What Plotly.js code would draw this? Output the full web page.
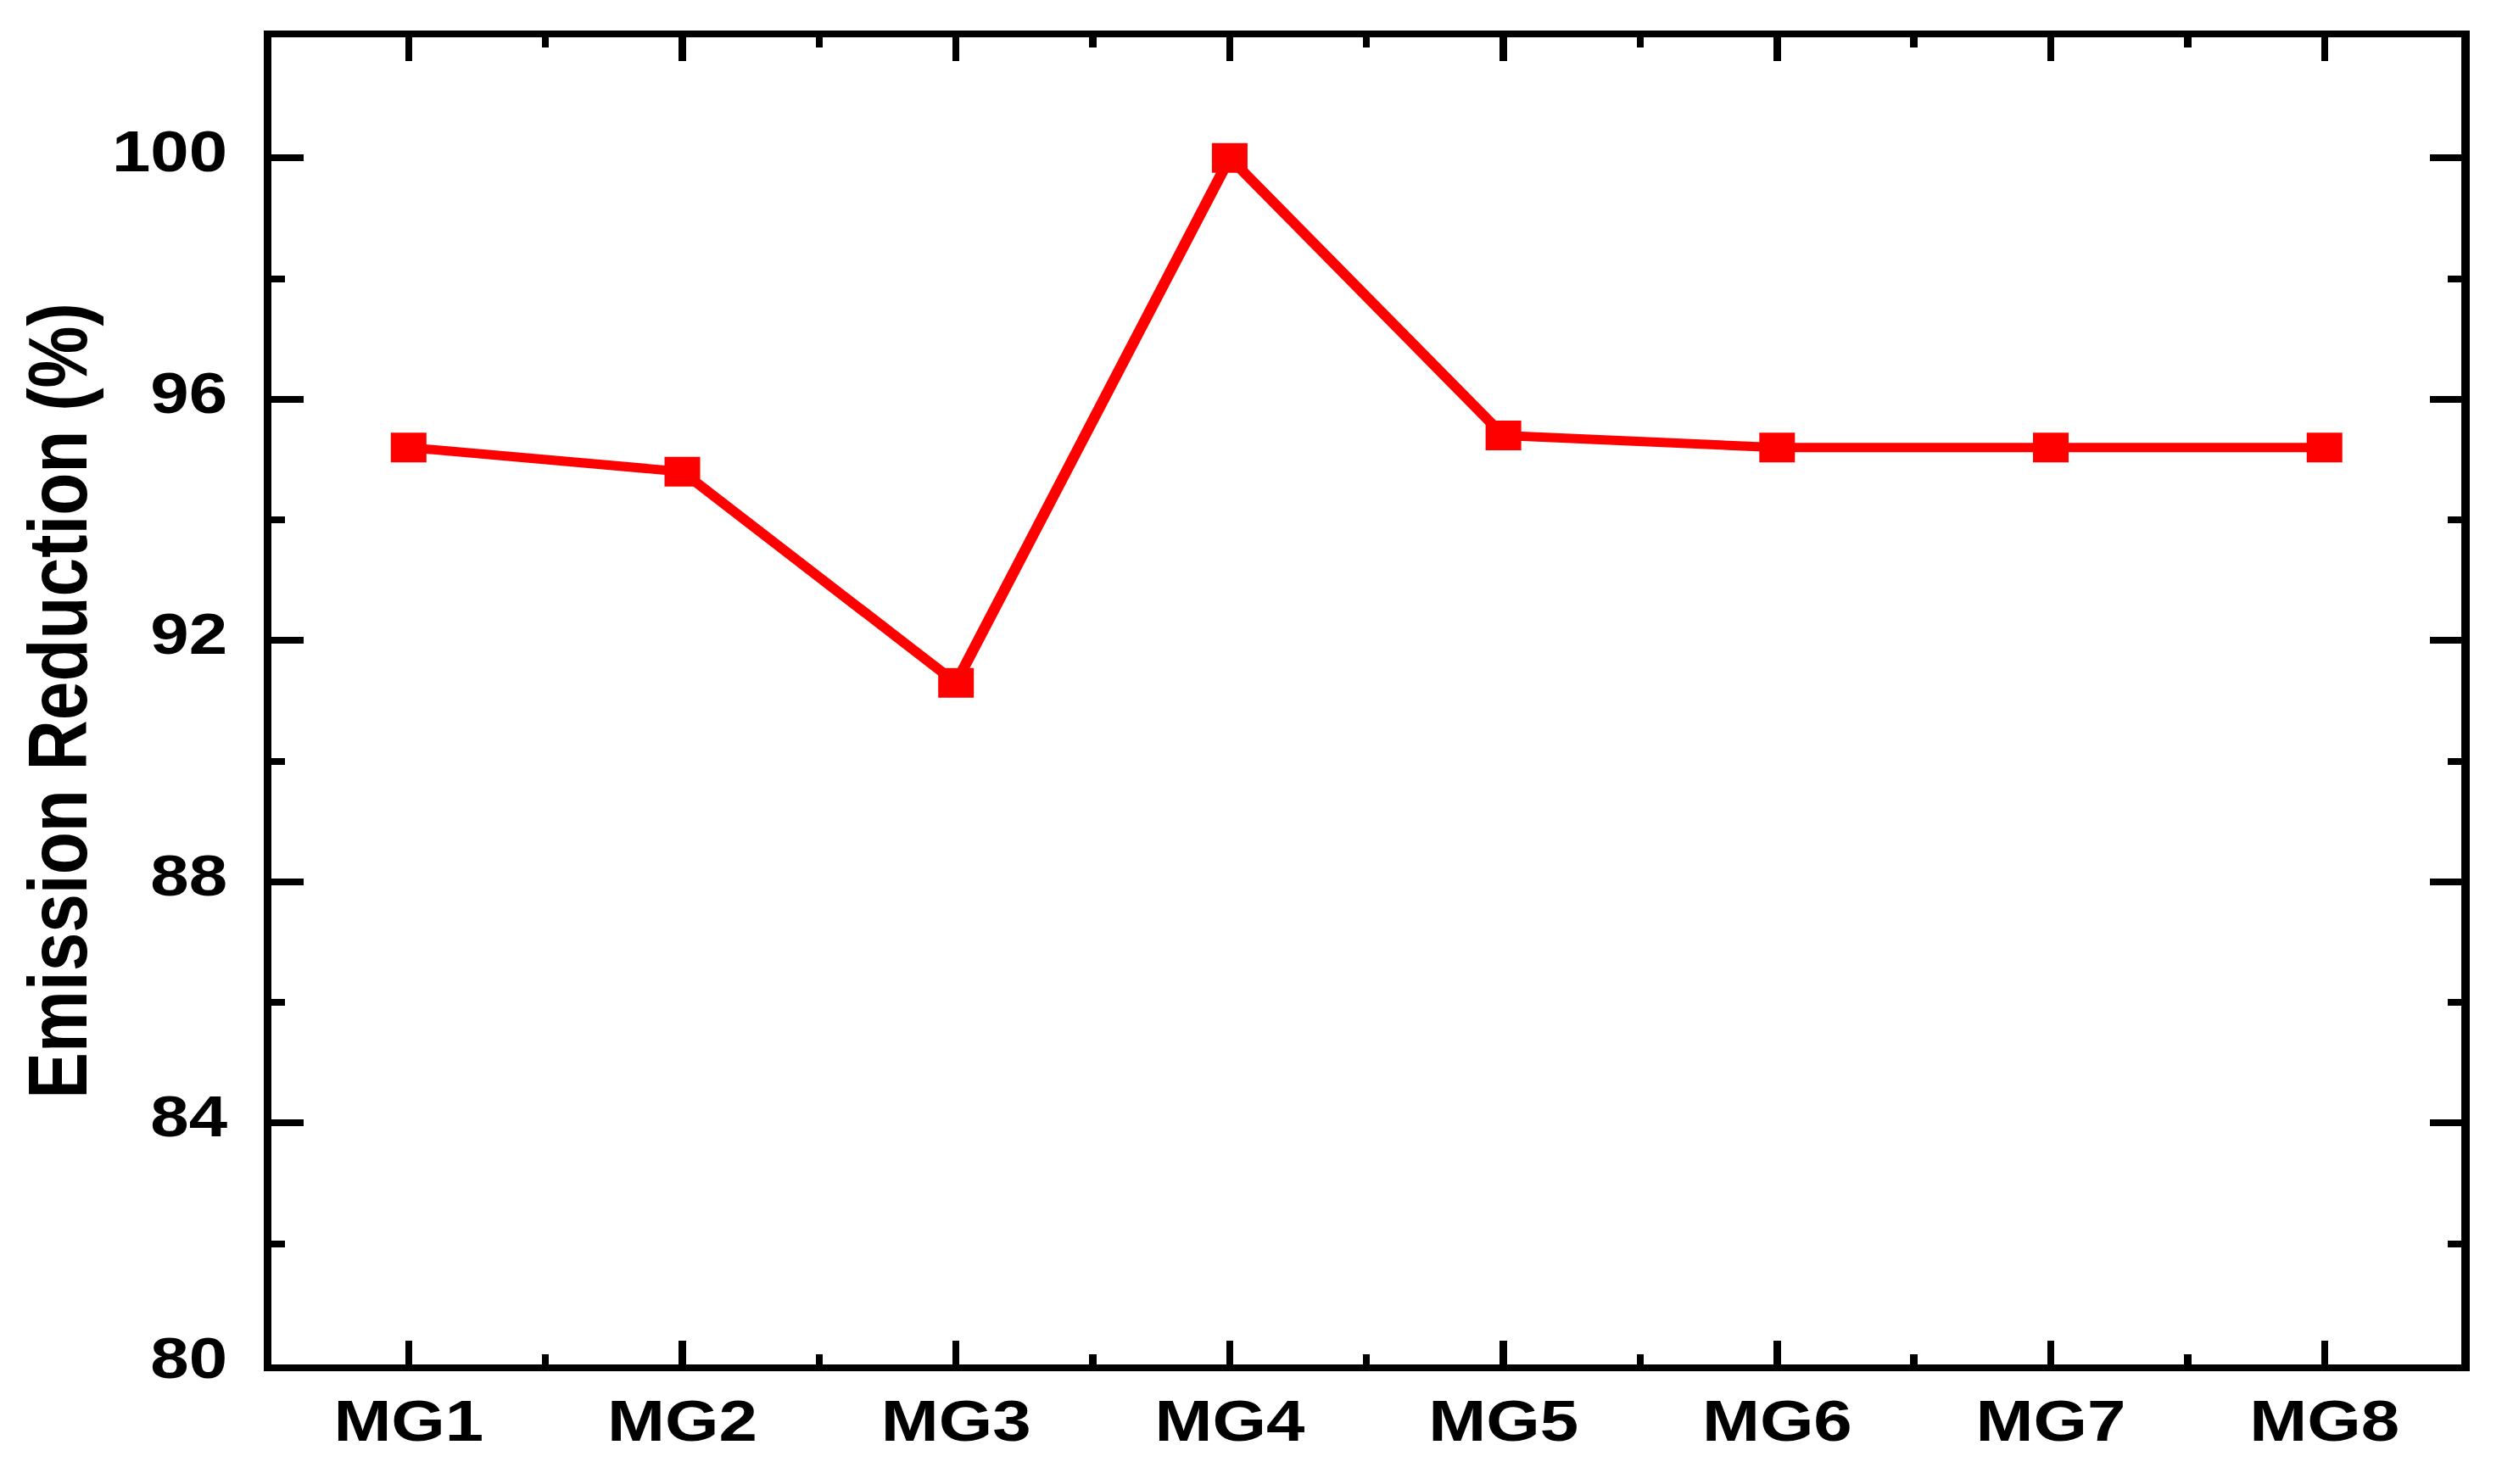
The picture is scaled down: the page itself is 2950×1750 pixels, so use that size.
<!DOCTYPE html>
<html>
<head>
<meta charset="utf-8">
<script src="https://cdn.plot.ly/plotly-3.0.1.min.js"></script>
<style>
html,body{margin:0;padding:0;background:#fff;overflow:hidden;}
#wrap{width:2950px;height:1750px;overflow:hidden;position:relative;}
#chart{width:2458px;height:1750px;transform:scaleX(1.2002);transform-origin:0 0;}
</style>
</head>
<body>
<div id="wrap"><div id="chart"></div></div>
<script>
const categories = ["MG1", "MG2", "MG3", "MG4", "MG5", "MG6", "MG7", "MG8"];
const emissionReduction = [95.2, 94.8, 91.3, 100.0, 95.4, 95.2, 95.2, 95.2];
const yTickValues = [80, 84, 88, 92, 96, 100];
const yTitle = "Emission Reduction (%)";

const xIndex = categories.map((c, i) => i);

const tickFont = {family: "Liberation Sans, Arial, sans-serif", size: 68, color: "#000", weight: 700};

const trace = {
  x: xIndex,
  y: emissionReduction,
  type: "scatter",
  mode: "lines+markers",
  line: {color: "#FF0000", width: 11},
  marker: {symbol: "square", size: 35, color: "#FF0000"},
  hoverinfo: "x+y",
  showlegend: false
};

const layout = {
  width: 2458,
  height: 1750,
  paper_bgcolor: "#ffffff",
  plot_bgcolor: "#ffffff",
  margin: {l: 267, r: 40, t: 44, b: 141},
  showlegend: false,
  xaxis: {
    range: [-0.5, 7.5],
    tickmode: "array",
    tickvals: xIndex,
    ticktext: categories,
    showgrid: false,
    zeroline: false,
    showline: true,
    linecolor: "#000",
    linewidth: 8,
    mirror: "allticks",
    ticks: "inside",
    ticklen: 28,
    tickwidth: 7,
    tickcolor: "#000",
    tickfont: tickFont,
    minor: {dtick: 0.5, tick0: -0.5, ticks: "inside", ticklen: 12, tickwidth: 7, tickcolor: "#000", showgrid: false},
    fixedrange: true
  },
  yaxis: {
    range: [80, 102],
    tickmode: "array",
    tickvals: yTickValues,
    showgrid: false,
    zeroline: false,
    showline: true,
    linecolor: "#000",
    linewidth: 8,
    mirror: "allticks",
    ticks: "inside",
    ticklen: 31,
    tickwidth: 8,
    tickcolor: "#000",
    tickfont: tickFont,
    ticklabelstandoff: 22,
    ticklabelshift: -8,
    minor: {dtick: 2, tick0: 80, ticks: "inside", ticklen: 13, tickwidth: 8, tickcolor: "#000", showgrid: false},
    title: {
      text: yTitle,
      font: {family: "Liberation Sans, Arial, sans-serif", size: 82, color: "#000", weight: 700},
      standoff: 0
    },
    fixedrange: true
  }
};

Plotly.newPlot("chart", [trace], layout, {displayModeBar: false, staticPlot: true});
</script>
</body>
</html>
